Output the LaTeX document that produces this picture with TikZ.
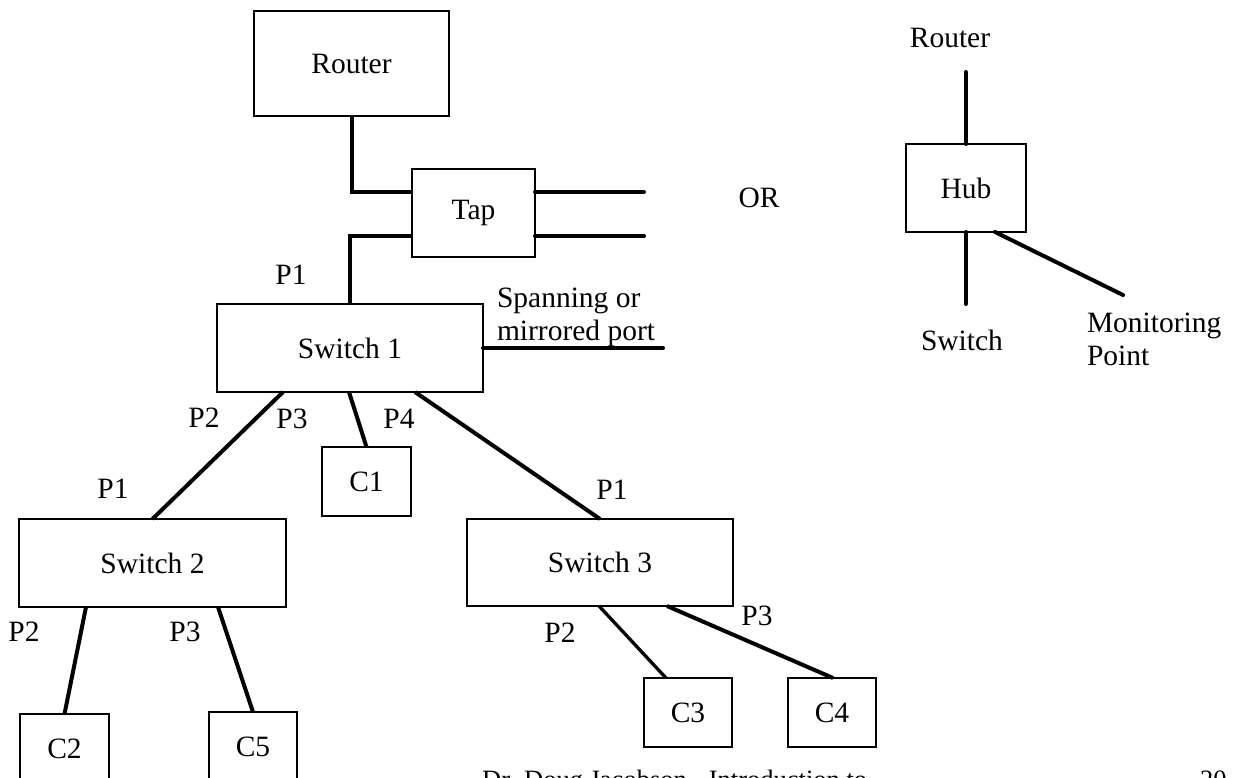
\documentclass[tikz,border=0pt]{standalone}
\usepackage{fontspec}
\setmainfont{Liberation Serif}
\begin{document}
\begin{tikzpicture}[x=1pt,y=-1pt,
  box/.style={draw, line width=2.6pt, inner sep=0pt, outer sep=0pt, font=\fontsize{29.5}{33}\selectfont},
  lbl/.style={inner sep=0pt, outer sep=0pt, font=\fontsize{29.5}{33}\selectfont},
  wire/.style={line width=4pt},
  fwire/.style={line width=4pt, line cap=round}]
\clip (0,0) rectangle (1236,778);
% boxes
\node[box, minimum width=195pt, minimum height=105pt] (router) at (351.5,63.5) {Router};
\node[box, minimum width=123pt, minimum height=88pt] (tap) at (473.5,213) {Tap};
\node[box, minimum width=266pt, minimum height=88pt] (sw1) at (350,348) {Switch 1};
\node[box, minimum width=89pt, minimum height=69pt] (c1) at (366.5,481.5) {C1};
\node[box, minimum width=267pt, minimum height=88pt] (sw2) at (152.5,563) {Switch 2};
\node[box, minimum width=266pt, minimum height=87pt] (sw3) at (600,562.5) {Switch 3};
\node[box, minimum width=89pt, minimum height=69pt] (c2) at (64.5,748.5) {C2};
\node[box, minimum width=88pt, minimum height=69pt] (c5) at (253,746.5) {C5};
\node[box, minimum width=88pt, minimum height=69pt] (c3) at (688,712.5) {C3};
\node[box, minimum width=88pt, minimum height=69pt] (c4) at (832,712.5) {C4};
\node[box, minimum width=120pt, minimum height=88pt] (hub) at (966,188) {Hub};
% free ends
\coordinate (tapo1) at (644,192);
\coordinate (tapo2) at (644,236);
\coordinate (span) at (663,348);
\coordinate (hubin) at (966,72);
\coordinate (hubsw) at (966,304);
\coordinate (hubmon) at (1123,295);
% connectors
\draw[wire] (router.south) |- ([yshift=21pt]tap.west);
\draw[wire] ([yshift=-23pt]tap.west) -| (sw1.north);
\draw[fwire] ([yshift=21pt]tap.east) -- (tapo1);
\draw[fwire] ([yshift=-23pt]tap.east) -- (tapo2);
\draw[fwire] (sw1.east) -- (span);
\draw[wire] ([xshift=-67pt]sw1.south) -- (sw2.north);
\draw[wire] ([xshift=-1pt]sw1.south) -- (c1.north);
\draw[wire] ([xshift=65pt]sw1.south) -- (sw3.north);
\draw[wire] ([xshift=-66.5pt]sw2.south) -- (c2.north);
\draw[wire] ([xshift=65.5pt]sw2.south) -- (c5.north);
\draw[line width=3.3pt] ([xshift=-1pt]sw3.south) -- ([xshift=-22pt]c3.north);
\draw[wire] ([xshift=67pt]sw3.south) -- ([xshift=1pt]c4.north);
\draw[fwire] (hubin) -- (hub.north);
\draw[fwire] (hub.south) -- (hubsw);
\draw[fwire] ([xshift=29pt]hub.south) -- (hubmon);
% labels
\node[lbl] (p1a) at (291,275) {P1};
\node[lbl, anchor=base west, align=left] (spanlbl) at (497,340) {Spanning or\\mirrored port};
\node[lbl] (p2a) at (204,418) {P2};
\node[lbl] (p3a) at (292,419) {P3};
\node[lbl] (p4a) at (399,419) {P4};
\node[lbl] (p1b) at (113,489) {P1};
\node[lbl] (p1c) at (612,490) {P1};
\node[lbl] (p2b) at (24,632) {P2};
\node[lbl] (p3b) at (185,632) {P3};
\node[lbl] (p2c) at (560,633) {P2};
\node[lbl] (p3c) at (757,616) {P3};
\node[lbl] (orl) at (759,198) {OR};
\node[lbl] (hubrouter) at (950,38) {Router};
\node[lbl] (hubswitch) at (962,340) {Switch};
\node[lbl, anchor=base west, align=left] (monlbl) at (1087,365) {Monitoring\\Point};
% footer
\node[inner sep=0pt, anchor=base west, font=\fontsize{26.5}{30}\selectfont] (footer) at (482,788) {Dr. Doug Jacobson - Introduction to};
\node[inner sep=0pt, anchor=base west, font=\fontsize{26.5}{30}\selectfont] (pagenum) at (1200,788) {20};
\end{tikzpicture}
\end{document}
